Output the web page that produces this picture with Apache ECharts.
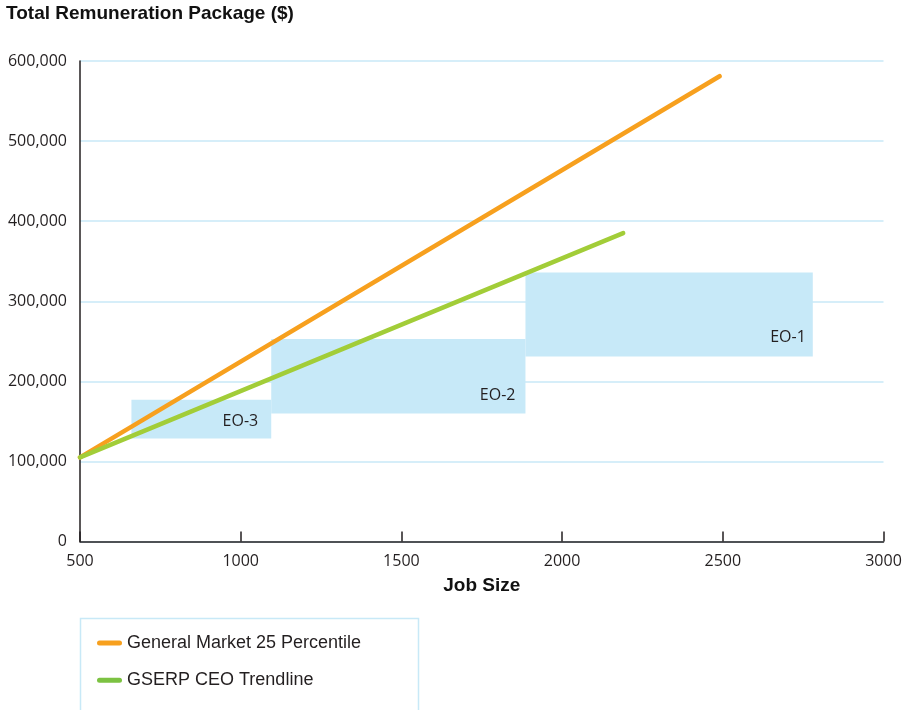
<!DOCTYPE html>
<html>
<head>
<meta charset="utf-8">
<title>Total Remuneration Package</title>
<script src="https://cdn.jsdelivr.net/npm/echarts@6/dist/echarts.min.js"></script>
<style>
  html, body { margin: 0; padding: 0; background: #ffffff; }
  #chart { width: 913px; height: 710px; }
</style>
</head>
<body>
<div id="chart"></div>
<script>
// General market 25th percentile line (job size -> total package)
const marketJobSize = [500, 2490];
const marketPay = [105000, 581000];

// GSERP CEO trendline
const ceoJobSize = [500, 2190];
const ceoPay = [105000, 385000];

// Executive officer bands
const bandNames = ['EO-3', 'EO-2', 'EO-1'];
const bandJobFrom = [660, 1095, 1886];
const bandJobTo = [1095, 1886, 2780];
const bandPayFrom = [128600, 159800, 231000];
const bandPayTo = [176900, 253000, 335800];

// Axis ticks
const payTicks = [0, 100000, 200000, 300000, 400000, 500000, 600000];
const jobTicks = [500, 1000, 1500, 2000, 2500, 3000];

const seriesNames = ['General Market 25 Percentile', 'GSERP CEO Trendline'];

const INK = '#231f20';
const GRID_BLUE = '#c8e9f7';
const BAND_BLUE = '#c7e9f8';
const ORANGE = '#f7a01e';
const GREEN = '#a2cd38';
const GREEN_KEY = '#7cc242';

// per-band label nudges inside the bottom-right corner
const bandLabelOffsets = [[-13, -9], [-10, -10], [-7, -11.5]];

const bandAreas = bandNames.map((name, i) => [
  {
    name: name,
    coord: [bandJobFrom[i], bandPayTo[i]],
    label: {
      show: true,
      position: 'insideBottomRight',
      distance: 0,
      offset: bandLabelOffsets[i],
      color: INK,
      fontFamily: 'Open Sans',
      fontSize: 16,
      lineHeight: 16
    }
  },
  { coord: [bandJobTo[i], bandPayFrom[i]] }
]);

const chart = echarts.init(document.getElementById('chart'), null, { renderer: 'canvas' });

const lineIcon = 'path://M2.5,0 H22.5 A2.5,2.5 0 0 1 22.5,5 H2.5 A2.5,2.5 0 0 1 2.5,0 Z';

chart.setOption({
  animation: false,
  backgroundColor: '#ffffff',
  title: {
    text: 'Total Remuneration Package ($)',
    left: 6,
    top: 4,
    padding: 0,
    textStyle: {
      fontFamily: 'Liberation Sans',
      fontWeight: 'bold',
      fontSize: 19,
      color: '#111111'
    }
  },
  grid: {
    left: 80,
    right: 29.5,
    top: 61,
    bottom: 168.5,
    containLabel: false
  },
  xAxis: {
    type: 'value',
    min: jobTicks[0],
    max: jobTicks[jobTicks.length - 1],
    interval: jobTicks[1] - jobTicks[0],
    name: 'Job Size',
    nameLocation: 'middle',
    nameGap: 35,
    nameTextStyle: {
      fontFamily: 'Liberation Sans',
      fontWeight: 'bold',
      fontSize: 19,
      color: '#111111'
    },
    axisLine: { show: true, lineStyle: { color: INK, width: 1.5 } },
    axisTick: { show: true, inside: true, length: 10, lineStyle: { color: INK, width: 1.5 } },
    axisLabel: {
      margin: 12,
      fontFamily: 'Open Sans',
      fontSize: 16,
      color: INK,
      formatter: v => String(v)
    },
    splitLine: { show: false }
  },
  yAxis: {
    type: 'value',
    min: payTicks[0],
    max: payTicks[payTicks.length - 1],
    interval: payTicks[1] - payTicks[0],
    axisLine: { show: true, lineStyle: { color: INK, width: 1.5 } },
    axisTick: { show: false },
    axisLabel: {
      margin: 13,
      fontFamily: 'Open Sans',
      fontSize: 16,
      color: INK,
      formatter: v => v.toLocaleString('en-US')
    },
    splitLine: { show: true, lineStyle: { color: GRID_BLUE, width: 1.5 } }
  },
  legend: {
    data: seriesNames,
    orient: 'vertical',
    left: 97,
    top: 633,
    padding: 0,
    itemWidth: 25,
    itemHeight: 5,
    itemGap: 17.3,
    icon: lineIcon,
    textStyle: {
      fontFamily: 'Liberation Sans',
      fontSize: 18,
      lineHeight: 20,
      color: INK
    }
  },
  graphic: [
    {
      type: 'rect',
      left: 78,
      top: 616,
      silent: true,
      shape: { width: 338, height: 110 },
      style: { fill: 'none', stroke: GRID_BLUE, lineWidth: 1.5 }
    }
  ],
  series: [
    {
      name: 'bands',
      type: 'line',
      data: [],
      z: 1,
      silent: true,
      markArea: {
        silent: true,
        itemStyle: { color: BAND_BLUE, opacity: 1 },
        data: bandAreas
      }
    },
    {
      name: seriesNames[0],
      type: 'line',
      z: 3,
      showSymbol: false,
      symbol: 'none',
      color: ORANGE,
      lineStyle: { color: ORANGE, width: 4.5, cap: 'round' },
      data: marketJobSize.map((x, i) => [x, marketPay[i]])
    },
    {
      name: seriesNames[1],
      type: 'line',
      z: 4,
      showSymbol: false,
      symbol: 'none',
      color: GREEN_KEY,
      lineStyle: { color: GREEN, width: 4.5, cap: 'round' },
      data: ceoJobSize.map((x, i) => [x, ceoPay[i]])
    }
  ]
});
</script>
</body>
</html>
